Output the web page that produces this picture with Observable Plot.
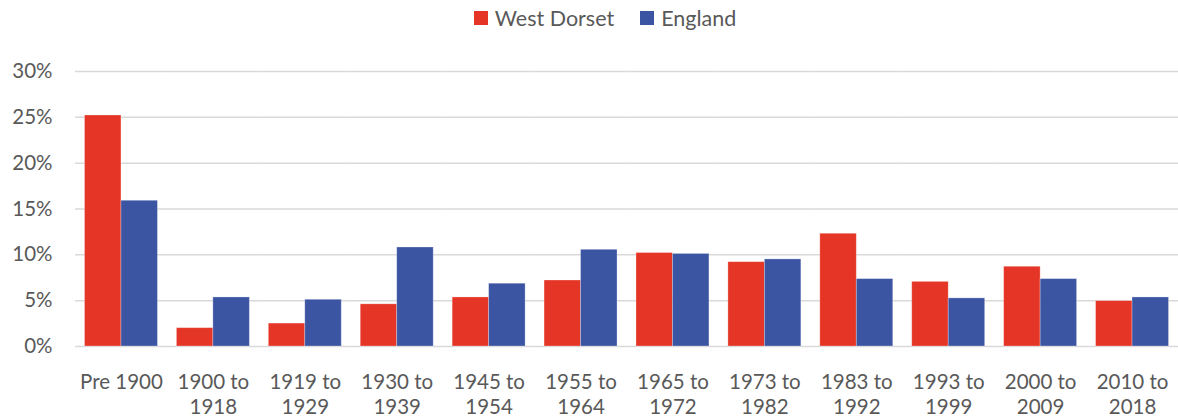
<!DOCTYPE html>
<html>
<head>
<meta charset="utf-8">
<script src="https://cdn.jsdelivr.net/npm/d3@7"></script>
<script src="https://cdn.jsdelivr.net/npm/@observablehq/plot@0.6"></script>
<style>
  html, body { margin: 0; padding: 0; background: #fff; }
  body { width: 1178px; height: 419px; overflow: hidden; font-family: Lato, "Open Sans", sans-serif; }
  #legend { height: 36px; display: flex; justify-content: center; align-items: center; gap: 26px; font-size: 21.5px; color: #595959; padding-left: 32px; }
  #legend span.item { display: flex; align-items: center; }
  #legend span.sw { width: 14px; height: 14px; display: inline-block; margin-right: 7px; }
</style>
</head>
<body>
<div id="legend"></div>
<div id="chart"></div>
<script>
const periods = ["Pre 1900", "1900 to 1918", "1919 to 1929", "1930 to 1939", "1945 to 1954", "1955 to 1964", "1965 to 1972", "1973 to 1982", "1983 to 1992", "1993 to 1999", "2000 to 2009", "2010 to 2018"];
const series = ["West Dorset", "England"];
const westDorset = [25.2, 2.0, 2.5, 4.6, 5.35, 7.2, 10.2, 9.2, 12.3, 7.05, 8.7, 4.95];
const england = [15.9, 5.35, 5.1, 10.8, 6.85, 10.55, 10.1, 9.5, 7.35, 5.25, 7.35, 5.35];
const colors = ["#e53526", "#3c55a3"];
const yTicks = [0, 5, 10, 15, 20, 25, 30];

const data = [];
periods.forEach((p, i) => {
  data.push({period: p, series: series[0], value: westDorset[i] / 100});
  data.push({period: p, series: series[1], value: england[i] / 100});
});

const legend = document.getElementById("legend");
series.forEach((s, i) => {
  const item = document.createElement("span");
  item.className = "item";
  item.innerHTML = `<span class="sw" style="background:${colors[i]}"></span>${s}`;
  legend.appendChild(item);
});

const fmtPeriod = p => p.includes(" to ") ? p.replace(" to ", " to\n") : p;

const chart = Plot.plot({
  width: 1178,
  height: 383,
  marginTop: 35,
  marginBottom: 73,
  marginLeft: 75,
  marginRight: 0,
  style: { fontFamily: "Lato, 'Open Sans', sans-serif", fontSize: "20.5px", color: "#595959", background: "#fff" },
  fx: { domain: periods, padding: 0, round: false, axis: null, label: null },
  x: { domain: series, paddingInner: 0, paddingOuter: 0.26, round: false, axis: null, label: null },
  y: { domain: [0, 0.3], axis: null, label: null },
  color: { domain: series, range: colors },
  marks: [
    Plot.ruleY(yTicks.map(d => d / 100), { stroke: "#d9d9d9", strokeWidth: 1.5 }),
    Plot.barY(data, { fx: "period", x: "series", y: "value", fill: "series", stroke: "#ffffff", strokeOpacity: 0.35, strokeWidth: 0.8 }),
    Plot.axisY(yTicks.map(d => d / 100), { tickFormat: d => Math.round(d * 100) + "%", tickSize: 0, tickPadding: 23, fill: "#595959", fontSize: 20.5, label: null }),
    Plot.axisFx({ anchor: "bottom", tickFormat: fmtPeriod, tickSize: 0, tickPadding: 24, lineHeight: 1.25, fill: "#595959", fontSize: 20.5, label: null })
  ]
});
document.getElementById("chart").appendChild(chart);
</script>
</body>
</html>
